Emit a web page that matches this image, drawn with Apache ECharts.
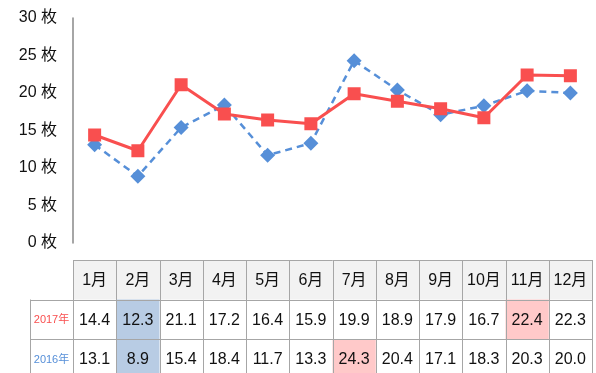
<!DOCTYPE html>
<html>
<head>
<meta charset="utf-8">
<script src="https://cdn.jsdelivr.net/npm/echarts@6/dist/echarts.min.js"></script>
<style>
  html, body { margin: 0; padding: 0; background: #fff; }
  #chart { width: 596px; height: 373px; }
</style>
</head>
<body>
<div id="chart"></div>
<script>
// Monthly counts (枚) for two years
const months = ['1月', '2月', '3月', '4月', '5月', '6月', '7月', '8月', '9月', '10月', '11月', '12月'];
const values2017 = [14.4, 12.3, 21.1, 17.2, 16.4, 15.9, 19.9, 18.9, 17.9, 16.7, 22.4, 22.3];
const values2016 = [13.1, 8.9, 15.4, 18.4, 11.7, 13.3, 24.3, 20.4, 17.1, 18.3, 20.3, 20.0];
const seriesNames = ['2017年', '2016年'];
const yTicks = [0, 5, 10, 15, 20, 25, 30];

const RED = '#f94f4f';
const BLUE = '#568fd8';
const FONT = '"Liberation Sans", "Noto Sans CJK JP", sans-serif';

const chart = echarts.init(document.getElementById('chart'));

const option = {
  animation: false,
  backgroundColor: '#fff',
  grid: { left: 73, right: 4, top: 18, bottom: 130, containLabel: false },
  xAxis: {
    type: 'category',
    data: months,
    boundaryGap: true,
    axisLine: { show: false },
    axisTick: { show: false },
    axisLabel: { show: false },
    splitLine: { show: false }
  },
  yAxis: {
    type: 'value',
    min: yTicks[0],
    max: yTicks[yTicks.length - 1],
    interval: 5,
    axisLine: { show: true, lineStyle: { color: '#888', width: 1.5 } },
    axisTick: { show: false },
    splitLine: { show: false },
    axisLabel: {
      margin: 16,
      color: '#111',
      fontSize: 16,
      fontFamily: FONT,
      formatter: v => v + ' 枚'
    }
  },
  series: [
    {
      name: seriesNames[1],
      type: 'line',
      data: values2016,
      symbol: 'diamond',
      symbolSize: 15,
      itemStyle: { color: BLUE },
      lineStyle: { color: BLUE, width: 2.5, type: [7, 5] },
      z: 2
    },
    {
      name: seriesNames[0],
      type: 'line',
      data: values2017,
      symbol: 'rect',
      symbolSize: 13,
      itemStyle: { color: RED },
      lineStyle: { color: RED, width: 3 },
      z: 3
    }
  ]
};

chart.setOption(option);

// Data table under the plot, aligned with the category bands
function buildTable() {
  const xs = months.map((m, i) => chart.convertToPixel({ xAxisIndex: 0 }, i));
  const band = xs.length > 1 ? xs[1] - xs[0] : 43;
  const left = xs[0] - band / 2;
  const right = xs[xs.length - 1] + band / 2;
  const headTop = 260, rowH = 39.5;
  const labelLeft = 30;
  const border = '#a6a6a6';
  const rows = [values2017, values2016];
  const rowColors = [RED, BLUE];
  const els = [];

  // header background
  els.push({ type: 'rect', shape: { x: left, y: headTop, width: right - left, height: rowH }, style: { fill: '#f2f2f2' }, silent: true });

  // min / max highlights per row
  rows.forEach((vals, r) => {
    const mn = Math.min(...vals), mx = Math.max(...vals);
    vals.forEach((v, i) => {
      let fill = null;
      if (v === mn) fill = '#b8cce4';
      else if (v === mx) fill = '#ffc9c9';
      if (fill) {
        els.push({ type: 'rect', shape: { x: xs[i] - band / 2, y: headTop + rowH * (r + 1), width: band, height: rowH }, style: { fill }, silent: true });
      }
    });
  });

  // horizontal lines
  const hLine = (x1, x2, y) => els.push({ type: 'line', shape: { x1, y1: y, x2, y2: y }, style: { stroke: border, lineWidth: 1 }, silent: true });
  hLine(left, right, headTop + 0.5);
  hLine(labelLeft, right, Math.round(headTop + rowH) + 0.5);
  hLine(labelLeft, right, Math.round(headTop + rowH * 2) + 0.5);
  hLine(labelLeft, right, Math.round(headTop + rowH * 3) + 0.5);

  // vertical lines
  const vLine = (x, y1, y2) => els.push({ type: 'line', shape: { x1: x, y1, x2: x, y2 }, style: { stroke: border, lineWidth: 1 }, silent: true });
  vLine(labelLeft + 0.5, headTop + rowH, 380);
  for (let i = 0; i <= months.length; i++) {
    const x = Math.round(left + band * i) + 0.5;
    vLine(x, headTop, 380);
  }

  // header text
  months.forEach((m, i) => {
    els.push({ type: 'text', x: xs[i], y: headTop + rowH / 2 + 1, style: { text: m, fill: '#111', font: '16px ' + FONT, align: 'center', verticalAlign: 'middle' }, silent: true });
  });

  // row labels and values
  rows.forEach((vals, r) => {
    const cy = headTop + rowH * (r + 1.5) + 1;
    els.push({ type: 'text', x: (labelLeft + left) / 2, y: cy, style: { text: seriesNames[r], fill: rowColors[r], font: '11px ' + FONT, align: 'center', verticalAlign: 'middle' }, silent: true });
    vals.forEach((v, i) => {
      els.push({ type: 'text', x: xs[i], y: cy, style: { text: v.toFixed(1), fill: '#111', font: '16px ' + FONT, align: 'center', verticalAlign: 'middle' }, silent: true });
    });
  });

  chart.setOption({ graphic: { elements: els } });
}

buildTable();
</script>
</body>
</html>
